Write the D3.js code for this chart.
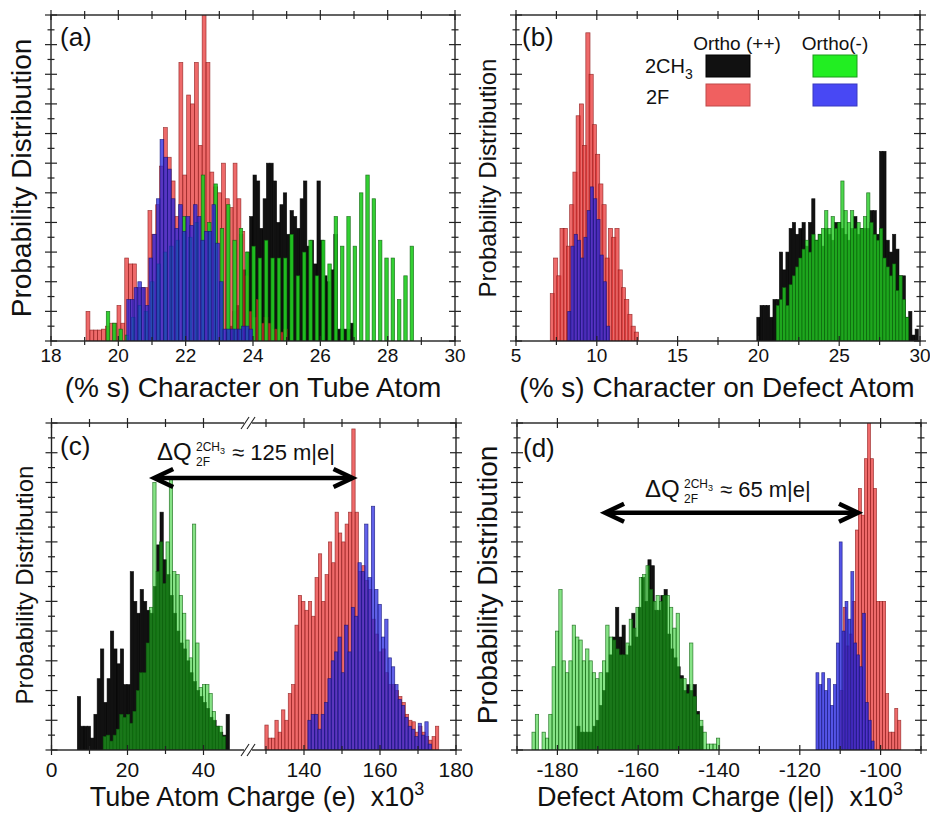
<!DOCTYPE html>
<html>
<head>
<meta charset="utf-8">
<script src="https://cdn.jsdelivr.net/npm/d3@7"></script>
<style>
body { margin: 0; background: #ffffff; }
text { font-family: "Liberation Sans", Arial, sans-serif; fill: #111111; }
</style>
</head>
<body>
<div id="canvas"></div>
<script>
"use strict"

let svgWidth = 930;
let svgHeight = 814;

/* ---------- data: histogram heights (arbitrary units), bin start and bin width ---------- */

/* (a) % s character on tube atom */
let aBlackStart = 23.2, aBlackStep = 0.1;
let aBlack = [0.3, 0.5, 1.0, 1.2, 3.6, 2.4, 3.0, 4.2, 5.6, 5.4,
    3.8, 4.8, 6.0, 6.0, 5.4, 4.0, 4.6, 5.0, 3.6, 4.4,
    4.2, 3.8, 4.8, 5.4, 3.2, 3.4, 2.6, 5.4, 3.4, 2.2,
    2.0, 2.4, 3.6, 0.4, 0.4, 0.4, 0.4, 0.6];
let aRedStart = 19.04, aRedStep = 0.115;
let aRed = [1.0, 0.37, 0.37, 0.37, 0.4, 0.5, 0.6, 0.6, 1.2, 0.6,
    2.8, 2.6, 2.6, 1.8, 1.8, 1.8, 4.4, 3.6, 4.6, 5.9,
    7.2, 6.2, 5.4, 4.2, 9.4, 5.6, 8.3, 8.0, 9.4, 6.6,
    11.2, 9.4, 5.7, 5.2, 5.0, 6.0, 4.8, 4.5, 6.0, 4.8,
    3.7, 2.2, 1.0, 0.8, 1.4, 0.6, 0.8, 0.6, 0.4, 0.4,
    0.3, 0.4];
let aGreenStart = 19.6, aGreenStep = 0.188;
let aGreen = [1.0, 0.6, 0.4, 0.2, 0.8, 1.2, 1.0, 2.0, 2.6, 3.0,
    3.2, 3.4, 4.2, 3.5, 4.0, 5.6, 4.0, 5.3, 3.8, 4.6,
    3.4, 3.8, 3.0, 3.2, 2.8, 3.4, 2.8, 2.8, 2.8, 3.6,
    2.2, 3.0, 3.4, 2.2, 3.4, 2.6, 4.2, 3.2, 4.2, 3.2,
    5.0, 5.6, 4.8, 3.4, 2.8, 2.8, 1.4, 2.2, 3.2];
let aBlueStart = 20.25, aBlueStep = 0.11;
let aBlue = [1.4, 1.4, 1.8, 2.0, 1.8, 1.2, 2.8, 3.6, 4.8, 6.8,
    6.2, 5.8, 4.8, 3.8, 4.6, 3.7, 4.2, 3.9, 4.6, 4.2,
    3.4, 3.7, 3.7, 4.6, 3.3, 2.0, 0.4, 0.4, 0.4, 0.4,
    0.4, 0.5, 0.5, 0.4];

/* (b) % s character on defect atom */
let bBlackStart = 19.9, bBlackStep = 0.2;
let bBlack = [0.8, 1.2, 1.2, 1.2, 0.8, 1.4, 1.4, 3.0, 2.4, 3.0,
    3.8, 4.0, 3.6, 3.8, 4.0, 3.2, 4.0, 4.8, 3.4, 3.6,
    3.2, 3.8, 3.6, 3.4, 4.0, 4.0, 3.8, 3.6, 3.4, 3.8,
    4.2, 3.6, 3.8, 3.8, 3.8, 4.4, 4.4, 3.6, 6.4, 6.4,
    3.4, 3.0, 3.6, 3.1, 2.2, 2.2, 0.8, 1.0, 0.2, 0.4];
let bGreenStart = 21.1, bGreenStep = 0.2;
let bGreen = [1.2, 1.4, 1.8, 1.2, 1.9, 2.2, 2.5, 2.8, 3.1, 3.4,
    3.0, 3.6, 3.4, 3.6, 3.8, 4.4, 3.8, 4.2, 3.8, 4.0,
    5.4, 4.4, 4.0, 4.4, 3.8, 4.0, 3.8, 4.2, 5.0, 4.0,
    3.6, 3.4, 3.8, 2.8, 2.5, 2.2, 2.6, 1.7, 2.2, 1.4,
    0.8];
let bRedStart = 7.15, bRedStep = 0.2;
let bRed = [1.6, 2.8, 2.2, 3.8, 3.8, 3.2, 4.6, 5.7, 7.6, 8.0,
    6.6, 10.4, 9.0, 7.3, 6.3, 5.3, 4.6, 2.8, 3.8, 3.5,
    3.8, 2.4, 1.8, 1.4, 0.9, 0.5, 0.3];
let bBlueStart = 8.2, bBlueStep = 0.2;
let bBlue = [1.0, 3.2, 3.6, 3.4, 2.8, 3.5, 4.4, 5.2, 4.8, 4.1,
    2.9, 2.0, 0.5];

/* (c) tube atom charge, x10^3 e */
let cBlackStart = 6.8, cBlackStep = 0.87;
let cBlack = [1.8, 0.8, 0.8, 0.8, 0.4, 1.2, 2.4, 3.4, 1.6, 2.4,
    4.0, 3.4, 2.9, 3.4, 2.2, 2.2, 6.0, 5.0, 4.6, 5.4,
    5.0, 4.7, 4.6, 5.5, 6.9, 8.0, 6.4, 5.9, 5.2, 4.6,
    4.0, 3.6, 3.4, 3.0, 2.6, 2.3, 2.0, 1.8, 1.6, 1.4,
    1.1, 1.0, 0.8, 0.6, 0.5, 1.2];
let cGreenStart = 13.6, cGreenStep = 0.87;
let cGreen = [0.45, 0.5, 0.3, 0.5, 0.7, 1.2, 1.1, 1.2, 0.9, 1.3,
    2.0, 2.6, 2.6, 3.6, 4.8, 9.0, 6.0, 7.0, 5.6, 7.0,
    9.1, 6.0, 5.9, 5.2, 4.6, 3.7, 3.1, 7.6, 3.6, 2.1,
    2.2, 2.2, 1.9, 1.3, 0.8, 0.8, 0.45];
let cRedStart = 129.7, cRedStep = 0.88;
let cRed = [0.84, 0.4, 0.4, 1.0, 0.6, 1.35, 1.0, 1.9, 2.2, 4.2,
    5.2, 5.0, 4.7, 5.0, 4.5, 5.8, 6.6, 5.0, 5.9, 7.0,
    6.3, 8.0, 7.3, 7.0, 7.6, 8.0, 10.8, 8.0, 6.0, 6.2,
    5.7, 5.4, 4.4, 3.9, 3.3, 3.4, 2.6, 2.2, 2.2, 2.0,
    1.8, 1.6, 1.2, 1.0, 0.95, 0.6, 0.8, 0.6, 0.45, 0.33,
    0.45, 0.8];
let cBlueStart = 141, cBlueStep = 0.88;
let cBlue = [1.0, 1.2, 1.2, 0.7, 1.2, 1.6, 2.4, 3.0, 3.3, 3.8,
    2.6, 4.2, 3.3, 4.8, 4.5, 6.3, 6.0, 7.6, 5.8, 8.2,
    5.4, 4.9, 3.8, 4.4, 3.1, 2.8, 2.2, 1.7, 1.5, 1.1,
    0.8, 0.7, 0.45, 0.9, 0.5, 0.95, 0.2];

/* (d) defect atom charge, x10^3 |e| */
let dBlackStart = -175.2, dBlackStep = 0.8;
let dBlack = [0.8, 0.6, 0.6, 0.6, 0.6, 0.8, 1.0, 1.5, 2.0, 2.6,
    3.2, 3.8, 4.8, 3.8, 4.2, 3.2, 3.5, 4.6, 3.8, 4.8,
    5.8, 5.0, 6.4, 6.2, 4.7, 4.7, 5.2, 5.4, 3.9, 3.4,
    3.1, 2.8, 2.5, 2.0, 2.2, 2.0, 2.2, 1.3, 0.8];
let dGreenStart = -186.3, dGreenStep = 0.83;
let dGreen = [0.6, 1.2, 0, 0.6, 0.4, 1.2, 2.8, 4.0, 5.4, 3.0,
    2.6, 3.0, 4.2, 3.8, 3.7, 3.0, 3.4, 3.0, 2.6, 2.4,
    2.6, 3.0, 4.2, 3.8, 3.7, 3.4, 3.2, 3.2, 3.6, 4.4,
    4.1, 4.8, 5.8, 5.9, 6.2, 5.4, 5.0, 5.2, 5.0, 5.2,
    5.2, 4.8, 4.1, 4.6, 2.4, 2.4, 1.9, 3.6, 1.8, 1.2,
    1.0, 0.6, 0.2, 0.2, 0.2, 0.4];
let dRedStart = -110, dRedStep = 0.75;
let dRed = [2.0, 4.8, 3.5, 3.9, 5.0, 7.4, 8.8, 7.9, 9.8, 11.2,
    9.8, 8.8, 5.0, 5.0, 5.0, 1.9, 0.6, 0.6, 1.4, 1.0];
let dBlueStart = -116, dBlueStep = 0.72;
let dBlue = [2.6, 2.2, 2.6, 2.0, 2.4, 1.5, 2.2, 3.6, 7.0, 4.0,
    5.0, 4.4, 6.0, 3.6, 3.2, 2.8, 4.6, 1.6, 1.0, 0.3];

/* tick values */
let aMajor = [18, 20, 22, 24, 26, 28, 30], aMinor = [19, 21, 23, 25, 27, 29];
let bMajor = [5, 10, 15, 20, 25, 30], bMinor = [7.5, 12.5, 17.5, 22.5, 27.5];
let cMajor = [0, 20, 40, 140, 160, 180], cMinor = [10, 30, 130, 150, 170];
let dMajor = [-180, -160, -140, -120, -100], dMinor = [-190, -170, -150, -130, -110, -90];
let yMajor = d3.range(0, 11.01, 1), yMinor = d3.range(0.5, 11, 1);

/* arrows showing the charge shift (x values) */
let cArrow = [26.5, 153.3];
let dArrow = [-168.7, -105.1];

/* ---------- colours ---------- */
let black = { fill: "#111111", stroke: "#000000" };
let red = { fill: "#e83030", stroke: "#8b1a1a" };
let blue = { fill: "#2424e0", stroke: "#151575" };
let green = { fill: "#22cc22", stroke: "#0b5e0b" };

/* ---------- canvas ---------- */
d3.select("#canvas").style("width", svgWidth + "px");
let svg = d3.select("#canvas")
    .append("svg")
    .attr("width", svgWidth)
    .attr("height", svgHeight);

svg.append("rect")
    .attr("width", svgWidth)
    .attr("height", svgHeight)
    .attr("fill", "#ffffff");

/* panel layout: pixel box of every plot */
let panels = [
    {
        id: "a", x0: 51, x1: 455, y0: 15, y1: 341,
        x: d3.scaleLinear().domain([18, 30]).range([51, 455]),
        major: aMajor, minor: aMinor, tickSize: 19,
        series: [
            { start: aBlackStart, step: aBlackStep, h: aBlack, c: black, op: 1 },
            { start: aRedStart, step: aRedStep, h: aRed, c: red, op: 0.72 },
            { start: aGreenStart, step: aGreenStep, h: aGreen, c: green, op: 0.92, w: 0.55 },
            { start: aBlueStart, step: aBlueStep, h: aBlue, c: blue, op: 0.75 }
        ]
    },
    {
        id: "b", x0: 516, x1: 920, y0: 15, y1: 341,
        x: d3.scaleLinear().domain([5, 30]).range([516, 920]),
        major: bMajor, minor: bMinor, tickSize: 19,
        series: [
            { start: bBlackStart, step: bBlackStep, h: bBlack, c: black, op: 1 },
            { start: bGreenStart, step: bGreenStep, h: bGreen, c: green, op: 0.8 },
            { start: bRedStart, step: bRedStep, h: bRed, c: red, op: 0.72, w: 1.3 },
            { start: bBlueStart, step: bBlueStep, h: bBlue, c: blue, op: 0.75 }
        ]
    },
    {
        id: "c", x0: 51.5, x1: 456, y0: 423, y1: 750,
        x: d3.scaleLinear().domain([0, 51, 126, 180]).range([51.5, 245.3, 250.8, 456]),
        major: cMajor, minor: cMinor, tickSize: 21,
        series: [
            { start: cBlackStart, step: cBlackStep, h: cBlack, c: black, op: 1 },
            { start: cGreenStart, step: cGreenStep, h: cGreen, c: green, op: 0.55 },
            { start: cRedStart, step: cRedStep, h: cRed, c: red, op: 0.72 },
            { start: cBlueStart, step: cBlueStep, h: cBlue, c: blue, op: 0.72 }
        ]
    },
    {
        id: "d", x0: 517, x1: 921, y0: 423, y1: 750,
        x: d3.scaleLinear().domain([-190, -90]).range([517, 921]),
        major: dMajor, minor: dMinor, tickSize: 21,
        series: [
            { start: dBlackStart, step: dBlackStep, h: dBlack, c: black, op: 1 },
            { start: dGreenStart, step: dGreenStep, h: dGreen, c: green, op: 0.55 },
            { start: dRedStart, step: dRedStep, h: dRed, c: red, op: 0.72 },
            { start: dBlueStart, step: dBlueStep, h: dBlue, c: blue, op: 0.78 }
        ]
    }
];

let defs = svg.append("defs");

panels.forEach(function (p) {
    let x = p.x;
    let y = d3.scaleLinear().domain([0, 11]).range([p.y1, p.y0]);
    p.y = y;

    defs.append("clipPath")
        .attr("id", "clip-" + p.id)
        .append("rect")
        .attr("x", p.x0)
        .attr("y", p.y0)
        .attr("width", p.x1 - p.x0)
        .attr("height", p.y1 - p.y0);

    let bars = svg.append("g").attr("clip-path", "url(#clip-" + p.id + ")");

    /* one histogram per series, drawn back to front */
    p.series.forEach(function (s) {
        let w = s.w || 1;
        let bins = s.h.map(function (v, i) {
            let mid = s.start + (i + 0.5) * s.step;
            return { lo: mid - s.step * w / 2, hi: mid + s.step * w / 2, v: v };
        }).filter(function (d) { return d.v > 0; });

        bars.append("g")
            .selectAll("rect")
            .data(bins)
            .join("rect")
            .attr("x", function (d) { return x(d.lo); })
            .attr("width", function (d) { return x(d.hi) - x(d.lo); })
            .attr("y", function (d) { return y(d.v); })
            .attr("height", function (d) { return y(0) - y(d.v); })
            .attr("fill", s.c.fill)
            .attr("fill-opacity", s.op)
            .attr("stroke", s.c.stroke)
            .attr("stroke-opacity", 0.8)
            .attr("stroke-width", 0.7);
    });

    /* frame */
    svg.append("rect")
        .attr("x", p.x0)
        .attr("y", p.y0)
        .attr("width", p.x1 - p.x0)
        .attr("height", p.y1 - p.y0)
        .attr("fill", "none")
        .attr("stroke", "#222222")
        .attr("stroke-width", 1.4);

    let ticks = svg.append("g").attr("stroke", "#222222").attr("stroke-width", 1.2);

    /* x ticks on bottom and top */
    p.major.forEach(function (v) {
        [p.y0, p.y1].forEach(function (yy) {
            ticks.append("line")
                .attr("x1", x(v)).attr("x2", x(v))
                .attr("y1", yy - 5).attr("y2", yy + 5);
        });
        svg.append("text")
            .attr("x", x(v))
            .attr("y", p.y1 + (p.tickSize == 19 ? 21 : 27))
            .style("text-anchor", "middle")
            .style("font-size", p.tickSize + "px")
            .text(v);
    });
    p.minor.forEach(function (v) {
        [p.y0, p.y1].forEach(function (yy) {
            ticks.append("line")
                .attr("x1", x(v)).attr("x2", x(v))
                .attr("y1", yy - 4).attr("y2", yy + 4);
        });
    });

    /* y ticks on left and right */
    yMajor.forEach(function (v) {
        [p.x0, p.x1].forEach(function (xx) {
            ticks.append("line")
                .attr("x1", xx - 6).attr("x2", xx + 6)
                .attr("y1", y(v)).attr("y2", y(v));
        });
    });
    yMinor.forEach(function (v) {
        [p.x0, p.x1].forEach(function (xx) {
            ticks.append("line")
                .attr("x1", xx - 3.5).attr("x2", xx + 3.5)
                .attr("y1", y(v)).attr("y2", y(v));
        });
    });
});

/* ---------- axis break in panel (c) ---------- */
let pc = panels[2];
let breakX = (pc.x(51) + pc.x(126)) / 2;
[pc.y0, pc.y1].forEach(function (yy) {
    svg.append("rect")
        .attr("x", breakX - 4)
        .attr("y", yy - 2)
        .attr("width", 8)
        .attr("height", 4)
        .attr("fill", "#ffffff");
    [-3, 3].forEach(function (dx) {
        svg.append("line")
            .attr("x1", breakX + dx - 4).attr("y1", yy + 6)
            .attr("x2", breakX + dx + 4).attr("y2", yy - 6)
            .attr("stroke", "#222222")
            .attr("stroke-width", 1.1);
    });
});

/* ---------- text: panel letters, axis titles ---------- */
let letters = [["(a)", 60, 46], ["(b)", 522, 46], ["(c)", 60, 455], ["(d)", 523, 457]];
letters.forEach(function (l) {
    svg.append("text")
        .attr("x", l[1])
        .attr("y", l[2])
        .style("font-size", "26px")
        .text(l[0]);
});

let yTitles = [[31, 178, 28], [496, 178, 24], [33, 585, 24], [497, 585, 28]];
yTitles.forEach(function (t) {
    svg.append("text")
        .attr("transform", "translate(" + t[0] + "," + t[1] + ") rotate(-90)")
        .style("text-anchor", "middle")
        .style("font-size", t[2] + "px")
        .text("Probability Distribution");
});

svg.append("text")
    .attr("x", 253).attr("y", 397)
    .style("text-anchor", "middle")
    .style("font-size", "28px")
    .text("(% s) Character on Tube Atom");

svg.append("text")
    .attr("x", 717).attr("y", 397)
    .style("text-anchor", "middle")
    .style("font-size", "28px")
    .text("(% s) Character on Defect Atom");

let cTitle = svg.append("text")
    .attr("x", 257).attr("y", 806)
    .style("text-anchor", "middle")
    .style("font-size", "27px")
    .style("white-space", "pre");
cTitle.append("tspan").text("Tube Atom Charge (e)  x10");
cTitle.append("tspan").attr("dy", -11).style("font-size", "18px").text("3");

let dTitle = svg.append("text")
    .attr("x", 720).attr("y", 806)
    .style("text-anchor", "middle")
    .style("font-size", "27px")
    .style("white-space", "pre");
dTitle.append("tspan").text("Defect Atom Charge (|e|)  x10");
dTitle.append("tspan").attr("dy", -11).style("font-size", "18px").text("3");

/* ---------- legend in panel (b) ---------- */
svg.append("text").attr("x", 737).attr("y", 50)
    .style("text-anchor", "middle").style("font-size", "19px").text("Ortho (++)");
svg.append("text").attr("x", 835).attr("y", 50)
    .style("text-anchor", "middle").style("font-size", "19px").text("Ortho(-)");

let ch3 = svg.append("text").attr("x", 645).attr("y", 73).style("font-size", "20px");
ch3.append("tspan").text("2CH");
ch3.append("tspan").attr("dy", 6).style("font-size", "14px").text("3");
svg.append("text").attr("x", 646).attr("y", 104).style("font-size", "20px").text("2F");

let swatches = [
    [706, 55, "#111111", "#000000"],
    [813, 55, "#22ee22", "#1a9a1a"],
    [706, 84, "#f06060", "#c04848"],
    [813, 84, "#4848f4", "#3838c0"]
];
swatches.forEach(function (s) {
    svg.append("rect")
        .attr("x", s[0]).attr("y", s[1])
        .attr("width", 44).attr("height", 22)
        .attr("fill", s[2])
        .attr("stroke", s[3]);
});

/* ---------- double arrows with the charge difference ---------- */
function doubleArrow(x1, x2, yy) {
    let g = svg.append("g")
        .attr("stroke", "#000000")
        .attr("fill", "none")
        .attr("stroke-width", 4.5)
        .attr("stroke-linejoin", "miter");
    g.append("line")
        .attr("x1", x1 + 3).attr("x2", x2 - 3)
        .attr("y1", yy).attr("y2", yy);
    g.append("polyline")
        .attr("points", (x1 + 21) + "," + (yy - 9) + " " + (x1 + 2) + "," + yy + " " + (x1 + 21) + "," + (yy + 9));
    g.append("polyline")
        .attr("points", (x2 - 21) + "," + (yy - 9) + " " + (x2 - 2) + "," + yy + " " + (x2 - 21) + "," + (yy + 9));
}

function deltaLabel(x, yy, value) {
    svg.append("text").attr("x", x).attr("y", yy).style("font-size", "24px").text("\u0394Q");
    let sup = svg.append("text").attr("x", x + 39).attr("y", yy - 9).style("font-size", "12px");
    sup.append("tspan").text("2CH");
    sup.append("tspan").attr("dy", 3).style("font-size", "9px").text("3");
    svg.append("text").attr("x", x + 39).attr("y", yy + 6).style("font-size", "12px").text("2F");
    svg.append("text").attr("x", x + 75).attr("y", yy).style("font-size", "22px").text("\u2248 " + value + " m|e|");
}

doubleArrow(panels[2].x(cArrow[0]), panels[2].x(cArrow[1]), panels[2].y(9.15));
deltaLabel(157, 460, 125);

doubleArrow(panels[3].x(dArrow[0]), panels[3].x(dArrow[1]), panels[3].y(7.98));
deltaLabel(645, 497, 65);
</script>
</body>
</html>
